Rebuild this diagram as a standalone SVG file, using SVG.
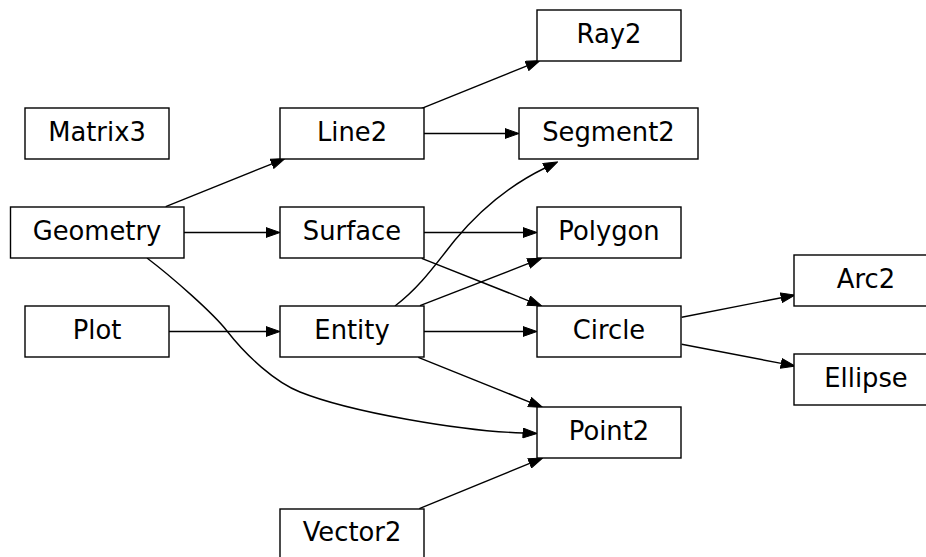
<svg xmlns="http://www.w3.org/2000/svg" width="926" height="557" viewBox="0 0 926 557">
<style>
.node rect{fill:#ffffff;stroke:#000000;stroke-width:1.4}
.node text{font-family:"DejaVu Sans",sans-serif;font-size:25.8px;fill:#000000;text-anchor:middle}
.edges path{fill:none;stroke:#000000;stroke-width:1.4}
</style>
<defs>
<marker id="arr" markerUnits="userSpaceOnUse" viewBox="0 0 15 11" refX="0.5" refY="5.5" markerWidth="15" markerHeight="11" orient="auto">
<path d="M0.5,0.6 L14.5,5.5 L0.5,10.4 z" fill="#000000" stroke="#000000" stroke-width="1"/>
</marker>
</defs>
<rect width="926" height="557" fill="#ffffff"/>
<g class="edges">
<path marker-end="url(#arr)" d="M165.7,206.7 L272,163.8"/>
<path marker-end="url(#arr)" d="M184,232.5 L266,232.5"/>
<path marker-end="url(#arr)" d="M147,258 C172,277 213,313 227,331 C247,356.6 275,382 300,392 C350,412 460,431 523,433"/>
<path marker-end="url(#arr)" d="M169,331.5 L266,331.5"/>
<path marker-end="url(#arr)" d="M421.7,108.3 L527,65.9"/>
<path marker-end="url(#arr)" d="M424,133.5 L505,133.5"/>
<path marker-end="url(#arr)" d="M424,232.5 L523,232.5"/>
<path marker-end="url(#arr)" d="M421.7,258.3 L528.7,300.8"/>
<path marker-end="url(#arr)" d="M395,306 C420,287 435,265 455,240 C480,210 510,185 545,168"/>
<path marker-end="url(#arr)" d="M420,305.7 L528.6,263.4"/>
<path marker-end="url(#arr)" d="M424,331.5 L523,331.5"/>
<path marker-end="url(#arr)" d="M418.3,357.3 L529.7,402.1"/>
<path marker-end="url(#arr)" d="M419.3,508.7 L529.7,463.3"/>
<path marker-end="url(#arr)" d="M681.7,317.3 L781.3,297.7"/>
<path marker-end="url(#arr)" d="M681.7,344.3 L781.3,363.4"/>
</g>
<g id="node-Matrix3" class="node"><rect x="25" y="108" width="144" height="51"/><text x="97" y="141">Matrix3</text></g>
<g id="node-Geometry" class="node"><rect x="10.5" y="207" width="173.5" height="51"/><text x="97" y="240">Geometry</text></g>
<g id="node-Plot" class="node"><rect x="25" y="306" width="144" height="51"/><text x="97" y="339">Plot</text></g>
<g id="node-Line2" class="node"><rect x="280" y="108" width="144" height="51"/><text x="352" y="141">Line2</text></g>
<g id="node-Surface" class="node"><rect x="280" y="207" width="144" height="51"/><text x="352" y="240">Surface</text></g>
<g id="node-Entity" class="node"><rect x="280" y="306" width="144" height="51"/><text x="352" y="339">Entity</text></g>
<g id="node-Vector2" class="node"><rect x="280" y="509" width="144" height="51"/><text x="352" y="541">Vector2</text></g>
<g id="node-Ray2" class="node"><rect x="537" y="10" width="144" height="51"/><text x="609" y="43">Ray2</text></g>
<g id="node-Segment2" class="node"><rect x="519" y="108" width="179" height="51"/><text x="608.5" y="141">Segment2</text></g>
<g id="node-Polygon" class="node"><rect x="537" y="207" width="144" height="51"/><text x="609" y="240">Polygon</text></g>
<g id="node-Circle" class="node"><rect x="537" y="306" width="144" height="51"/><text x="609" y="339">Circle</text></g>
<g id="node-Point2" class="node"><rect x="537" y="407" width="144" height="51"/><text x="609" y="440">Point2</text></g>
<g id="node-Arc2" class="node"><rect x="794" y="255" width="144" height="51"/><text x="866" y="288">Arc2</text></g>
<g id="node-Ellipse" class="node"><rect x="794" y="354" width="144" height="51"/><text x="866" y="387">Ellipse</text></g>
</svg>
